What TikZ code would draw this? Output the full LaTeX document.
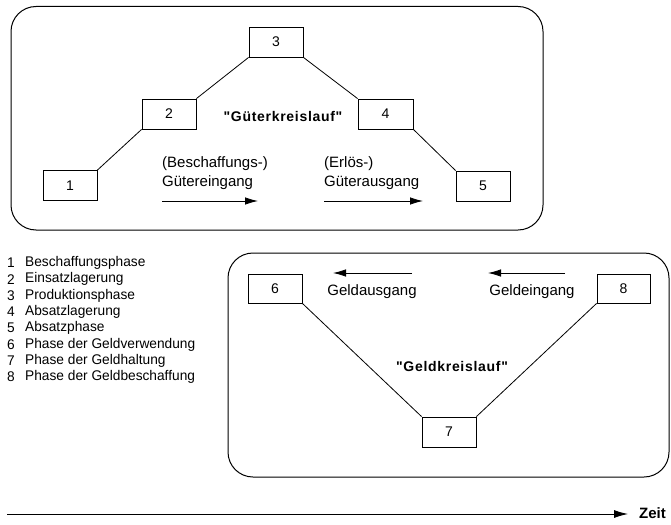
\documentclass[tikz,border=0pt]{standalone}
\usepackage{fontspec}
\setmainfont{Liberation Sans}
\newfontfamily\narrowfont[FakeStretch=0.98]{Liberation Sans}
\newfontfamily\spacedfont[LetterSpace=5]{Liberation Sans}
\usetikzlibrary{arrows.meta}
\begin{document}
\begin{tikzpicture}[x=1pt,y=-1pt,
  phase/.style={draw,line width=0.8pt,minimum width=54pt,minimum height=30pt,inner sep=0pt,font=\fontsize{14}{16}\selectfont},
  frame/.style={draw,line width=1pt,rounded corners=25pt},
  link/.style={line width=0.8pt},
  flow/.style={line width=0.8pt,-{Latex[length=13pt,width=7.5pt]}},
  lbl/.style={font=\fontsize{15}{19}\selectfont,align=left,inner sep=0pt},
  title/.style={font=\spacedfont\bfseries\fontsize{14}{16}\selectfont,inner sep=0pt},
  legnum/.style={font=\narrowfont\fontsize{14}{16}\selectfont,inner sep=0pt},
  legtxt/.style={font=\narrowfont\fontsize{14}{16}\selectfont,inner sep=0pt,anchor=west}]
\useasboundingbox (0,0) rectangle (671,524);
% frames
\draw[frame] (11,6.5) rectangle (543,230);
\draw[frame] (228,253) rectangle (669,477);
% goods cycle
\node[phase] (b1) at (70,185.5) {1};
\node[phase] (b2) at (169,114) {2};
\node[phase] (b3) at (276,42) {3};
\node[phase,minimum width=55pt] (b4) at (385.5,114) {4};
\node[phase] (b5) at (483,186) {5};
\draw[link] (b1.north east) -- (b2.south west);
\draw[link] (b2.north east) -- (b3.south west);
\draw[link] (b3.south east) -- (b4.north west);
\draw[link] (b4.south east) -- (b5.north west);
\node[title] (gk) at (283,116) {"Güterkreislauf"};
\node[lbl,anchor=west] (ge) at (162,173) {(Beschaffungs-)\\Gütereingang};
\node[lbl,anchor=west] (ga) at (324,173) {(Erlös-)\\Güterausgang};
\coordinate (a1s) at (162,201); \coordinate (a1e) at (258,201);
\coordinate (a2s) at (324,201); \coordinate (a2e) at (423,201);
\draw[flow] (a1s) -- (a1e);
\draw[flow] (a2s) -- (a2e);
% money cycle
\node[phase,minimum height=29pt] (b6) at (275,288.5) {6};
\node[phase] (b7) at (449,432) {7};
\node[phase,minimum width=53pt,minimum height=29pt] (b8) at (623.5,288.5) {8};
\draw[link] (b6.south east) -- (b7.north west);
\draw[link] (b8.south west) -- (b7.north east);
\node[title] (gl) at (452,366) {"Geldkreislauf"};
\node[lbl] (gaus) at (372,292) {Geldausgang};
\node[lbl] (gein) at (532,292) {Geldeingang};
\coordinate (a3s) at (412,273); \coordinate (a3e) at (333,273);
\coordinate (a4s) at (565,273); \coordinate (a4e) at (488,273);
\draw[flow] (a3s) -- (a3e);
\draw[flow] (a4s) -- (a4e);
% legend
\foreach \n/\t [count=\i] in {1/Beschaffungsphase,2/Einsatzlagerung,3/Produktionsphase,4/Absatzlagerung,5/Absatzphase,6/Phase der Geldverwendung,7/Phase der Geldhaltung,8/Phase der Geldbeschaffung}{
  \node[legnum] (ln\i) at (11,{263+16.3*(\i-1)}) {\n};
  \node[legtxt] (lt\i) at (25,{263+16.3*(\i-1)}) {\t};
}
% time axis
\coordinate (ts) at (7,514);
\coordinate (te) at (628,514);
\draw[line width=0.9pt,-{Latex[length=14pt,width=8pt]}] (ts) -- (te);
\node[font=\bfseries\fontsize{15}{17}\selectfont,anchor=west,inner sep=0pt] (zeit) at (639,513) {Zeit};
\end{tikzpicture}
\end{document}
